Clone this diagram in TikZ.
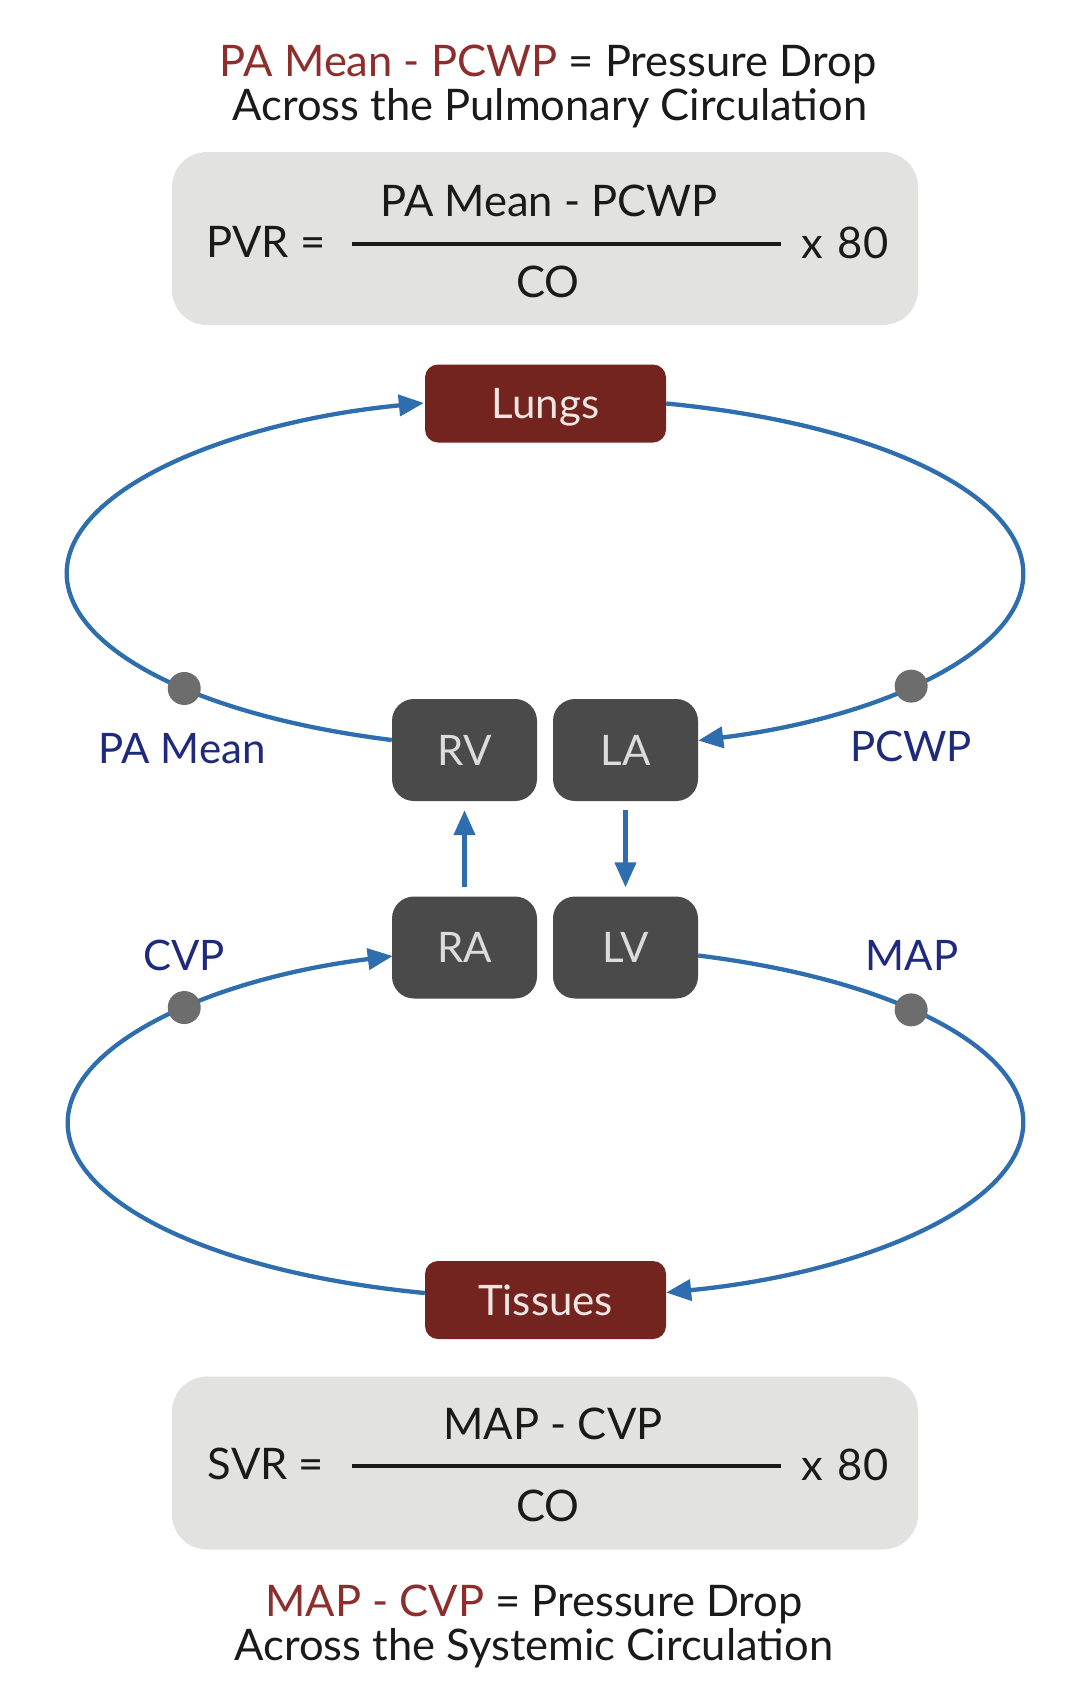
\documentclass[tikz,border=0pt]{standalone}
\usepackage{fontspec}
\setmainfont{Lato}
\usetikzlibrary{arrows.meta,calc}
\definecolor{bl}{HTML}{2E6EAF}
\definecolor{boxred}{HTML}{74241F}
\definecolor{titlered}{HTML}{8E2E2C}
\definecolor{navy}{HTML}{1F2A7C}
\definecolor{heart}{HTML}{4A4A4A}
\definecolor{hearttxt}{HTML}{DCDCDC}
\definecolor{redtxt}{HTML}{EFE6E4}
\definecolor{dotgray}{HTML}{6D6D6D}
\definecolor{formgray}{HTML}{E2E3E1}
\definecolor{ink}{HTML}{1A1A1A}
\begin{document}
\begin{tikzpicture}[x=1pt,y=-1pt,
  txt/.style={font=\fontsize{43.5}{50}\selectfont, text=ink, inner sep=0pt, text height=31pt, text depth=0pt},
  lbl/.style={txt, font=\fontsize{42}{48}\selectfont, text=navy, text height=30pt},
  redbox/.style={txt, font=\fontsize{42}{48}\selectfont, text height=30pt, text=redtxt, fill=boxred, rounded corners=13pt, minimum width=241pt, minimum height=78pt},
  heartbox/.style={txt, font=\fontsize{42}{48}\selectfont, text height=30pt, text=hearttxt, fill=heart, rounded corners=22pt, minimum width=145pt, minimum height=102pt},
  formbox/.style={fill=formgray, rounded corners=35pt, minimum width=746pt, minimum height=173pt, inner sep=0pt},
  dotnode/.style={circle, fill=dotgray, minimum size=33pt, inner sep=0pt},
  bloodline/.style={draw=bl, line width=4.3pt, -{Triangle[length=25pt,width=21pt]}},
  fracbar/.style={draw=ink, line width=4.5pt}
]
\useasboundingbox (0,0) rectangle (1090,1684);
\fill[white] (0,0) rectangle (1090,1684);

% titles
\node[txt] (title1) at (548,61) {{\color{titlered}PA Mean - PCWP} = Pressure Drop};
\node[txt] (title2) at (550,105) {Across the Pulmonary Circulation};
\node[txt] (title3) at (534,1601) {{\color{titlered}MAP - CVP} = Pressure Drop};
\node[txt] (title4) at (534,1645) {Across the Systemic Circulation};

% formula boxes
\node[formbox] (pvrbox) at (545,238.5) {};
\node[txt] (pvrlab) at (266,242) {PVR =};
\node[txt] (pvrnum) at (549,201) {PA Mean - PCWP};
\node[txt] (pvrden) at (548,282) {CO};
\node[txt] (pvrx) at (845,243) {x\,\,80};
\draw[fracbar] (352,244) -- (781,244);

\node[formbox] (svrbox) at (545,1463) {};
\node[txt] (svrlab) at (266,1464) {SVR =};
\node[txt] (svrnum) at (553,1424) {MAP - CVP};
\node[txt] (svrden) at (548,1506) {CO};
\node[txt] (svrx) at (845,1465) {x\,\,80};
\draw[fracbar] (352,1466) -- (781,1466);

% main nodes
\node[redbox] (lungs) at (545.5,403.5) {Lungs};
\node[redbox] (tissues) at (545.5,1300) {Tissues};
\node[heartbox] (rv) at (464.5,750) {RV};
\node[heartbox] (la) at (625.5,750) {LA};
\node[heartbox] (ra) at (464.5,947.5) {RA};
\node[heartbox] (lv) at (625.5,947.5) {LV};

% loops
\draw[bloodline] ([yshift=10pt]rv.west) arc[start angle=251.33, end angle=104.66, x radius=478pt, y radius=176pt];
\draw[bloodline] (lungs.east) arc[start angle=75.34, end angle=-71.33, x radius=478pt, y radius=176pt];
\draw[bloodline] ([yshift=-8pt]lv.east) arc[start angle=71.33, end angle=-75.34, x radius=478pt, y radius=176pt];
\draw[bloodline] ([yshift=7pt]tissues.west) arc[start angle=255.34, end angle=108.67, x radius=478pt, y radius=176pt];

% heart arrows
\draw[bloodline, shorten <=9pt, shorten >=9pt] (ra) -- (rv);
\draw[bloodline, shorten <=9pt, shorten >=9pt] (la) -- (lv);

% dots
\node[dotnode] (padot) at ($(545,573)+(221:478pt and 176pt)$) {};
\node[dotnode] (pcwpdot) at ($(545,573)+(-40:478pt and 176pt)$) {};
\node[dotnode] (cvpdot) at ($(545,1123)+(139:478pt and 176pt)$) {};
\node[dotnode] (mapdot) at ($(545,1123)+(40:478pt and 176pt)$) {};

% labels
\node[lbl] (palab) at (182,748) {PA Mean};
\node[lbl] (pcwplab) at (911,746) {PCWP};
\node[lbl] (cvplab) at (184,955) {CVP};
\node[lbl] (maplab) at (912,955) {MAP};
\end{tikzpicture}
\end{document}
